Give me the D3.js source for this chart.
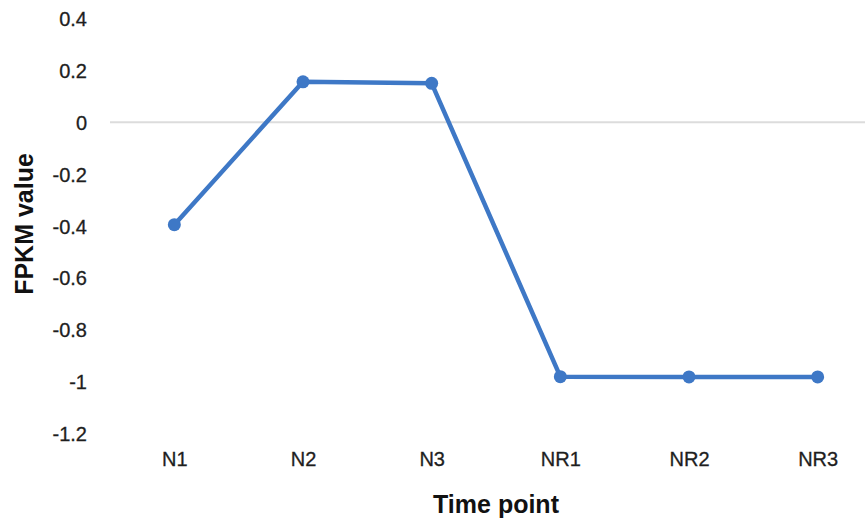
<!DOCTYPE html>
<html>
<head>
<meta charset="utf-8">
<script src="https://cdn.jsdelivr.net/npm/d3@7"></script>
<style>
  html, body { margin: 0; padding: 0; background: #fff; }
  svg { display: block; }
</style>
</head>
<body>
<svg id="chart" width="865" height="519"></svg>
<script>
// Time points along the x axis
const categories = ["N1", "N2", "N3", "NR1", "NR2", "NR3"];
// FPKM value at each time point
const fpkmValues = [-0.395, 0.156, 0.150, -0.981, -0.982, -0.982];
// Y axis ticks
const yTicks = [0.4, 0.2, 0, -0.2, -0.4, -0.6, -0.8, -1, -1.2];

const svg = d3.select("#chart");
const W = 865, H = 519;

const x = d3.scalePoint().domain(categories).range([110, 882]).padding(0.5);
const y = d3.scaleLinear().domain([-1.2, 0.4]).range([433.5, 18.5]);

const font = "'Liberation Sans', Arial, sans-serif";

// zero line
svg.append("line")
  .attr("x1", 110).attr("x2", W)
  .attr("y1", y(0)).attr("y2", y(0))
  .attr("stroke", "#dcdcdc").attr("stroke-width", 2);

// y tick labels (plain hyphen for negatives)
const yAxis = d3.axisLeft(y).tickValues(yTicks).tickSize(0).tickPadding(0)
  .tickFormat(d => String(+d.toFixed(1)));
const gy = svg.append("g").attr("transform", "translate(87,0)").call(yAxis);
gy.select(".domain").remove();
gy.selectAll("text")
  .attr("font-family", font).attr("font-size", 20).attr("fill", "#1e1e1e")
  .attr("stroke", "#1e1e1e").attr("stroke-width", 0.3)
  .attr("dy", "0.35em");

// x category labels
const xAxis = d3.axisBottom(x).tickSize(0).tickPadding(0);
const gx = svg.append("g").attr("transform", "translate(0,452)").call(xAxis);
gx.select(".domain").remove();
gx.selectAll("text")
  .attr("font-family", font).attr("font-size", 20).attr("fill", "#1e1e1e")
  .attr("stroke", "#1e1e1e").attr("stroke-width", 0.3)
  .attr("dy", "0.71em");

// series line
const pts = categories.map((c, i) => ({ c, v: fpkmValues[i] }));
svg.append("path")
  .datum(pts)
  .attr("fill", "none")
  .attr("stroke", "#3e78c6")
  .attr("stroke-width", 4.5)
  .attr("stroke-linejoin", "round")
  .attr("d", d3.line().x(d => x(d.c)).y(d => y(d.v)));

svg.selectAll("circle.pt")
  .data(pts).enter().append("circle")
  .attr("class", "pt")
  .attr("cx", d => x(d.c)).attr("cy", d => y(d.v))
  .attr("r", 6.5)
  .attr("fill", "#3e78c6");

// axis titles
svg.append("text")
  .attr("x", 496).attr("y", 513)
  .attr("text-anchor", "middle")
  .attr("font-family", font).attr("font-size", 25).attr("font-weight", "bold")
  .attr("fill", "#111")
  .text("Time point");

svg.append("text")
  .attr("transform", "translate(33,224) rotate(-90)")
  .attr("text-anchor", "middle")
  .attr("font-family", font).attr("font-size", 25).attr("font-weight", "bold")
  .attr("fill", "#111")
  .text("FPKM value");
</script>
</body>
</html>
